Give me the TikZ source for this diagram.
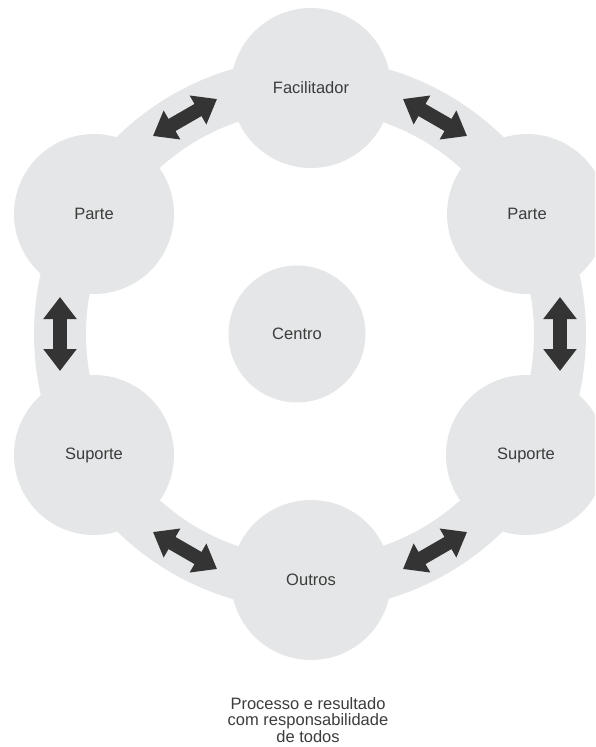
\documentclass[tikz,border=0pt]{standalone}
\usepackage{fontspec}
\setmainfont{Liberation Sans}
\usetikzlibrary{arrows.meta,calc}
\definecolor{ringgray}{RGB}{229,230,231}
\definecolor{arrowgray}{RGB}{52,52,52}
\definecolor{textgray}{RGB}{60,60,60}
\tikzset{
  bubble/.style={circle, fill=ringgray, minimum size=160pt, inner sep=0pt,
    text=textgray, font=\fontsize{16.5}{17}\selectfont},
  centerbubble/.style={bubble, minimum size=137pt},
  bigarrow/.style={draw=arrowgray, line width=14pt, line cap=butt,
    {Triangle[width=32pt,length=22pt]}-{Triangle[width=32pt,length=22pt]}},
  caption/.style={align=center, text=textgray, font=\fontsize{16.5}{16.5}\selectfont}
}
\begin{document}
\begin{tikzpicture}[x=1pt,y=-1pt]
\useasboundingbox (0,0) rectangle (595,747);
\clip (0,0) rectangle (595,747);
\coordinate (C) at (310,334);
% ring
\fill[ringgray, even odd rule] (C) circle (276pt) (C) circle (224pt);
% nodes
\node[bubble] (fac) at (311,88) {Facilitador};
\node[bubble] (parteL) at (94,214) {Parte};
\node[bubble] (parteR) at (527,214) {Parte};
\node[bubble] (supL) at (94,455) {Suporte};
\node[bubble] (supR) at (526,455) {Suporte};
\node[bubble] (out) at (311,580) {Outros};
\node[centerbubble] (cen) at (297,334) {Centro};
% arrow end points
\foreach \a/\n in {0/r, 60/ur, 120/ul, 180/l, 240/dl, 300/dr}{
  \coordinate (\n s) at ($(C)+(\a:250)+(\a+90:37)$);
  \coordinate (\n e) at ($(C)+(\a:250)+(\a-90:37)$);
}
\draw[bigarrow] (rs) -- (re);
\draw[bigarrow] (urs) -- (ure);
\draw[bigarrow] (uls) -- (ule);
\draw[bigarrow] (ls) -- (le);
\draw[bigarrow] (dls) -- (dle);
\draw[bigarrow] (drs) -- (dre);
% caption
\node[caption] (cap) at (308,720) {Processo e resultado\\com responsabilidade\\de todos};
\end{tikzpicture}
\end{document}
